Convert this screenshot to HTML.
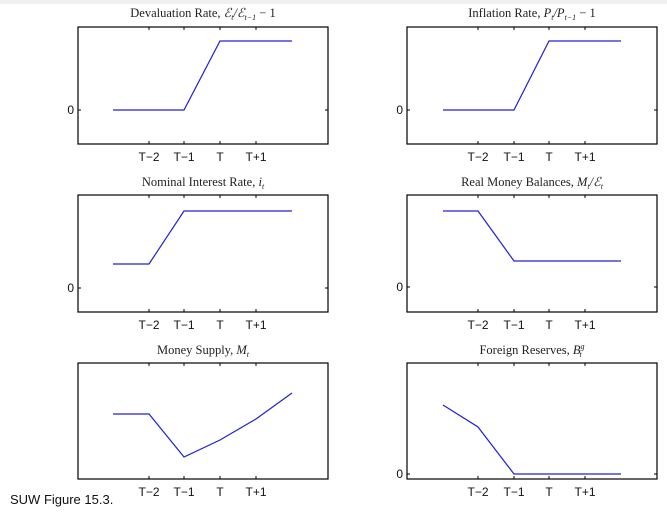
<!DOCTYPE html>
<html><head><meta charset="utf-8"><style>
body{margin:0;background:#fff}
svg{display:block}
.t{font-family:"Liberation Serif",serif;font-size:12.5px;fill:#222}
.l{font-family:"Liberation Sans",sans-serif;font-size:12px;fill:#111}
</style></head><body>
<svg width="667" height="513" viewBox="0 0 667 513">
<rect x="0" y="0" width="667" height="4" fill="#f0f0f0"/>
<g fill="none" stroke="#000" stroke-width="1.2">
<rect x="78" y="27" width="250" height="117"/>
<rect x="407" y="27" width="250" height="117"/>
<rect x="78" y="195" width="250" height="117"/>
<rect x="407" y="195" width="250" height="117"/>
<rect x="78" y="363" width="250" height="116"/>
<rect x="407" y="363" width="250" height="116"/>
</g>
<g stroke="#000" stroke-width="1">
<path d="M149,144v-3M184,144v-3M220,144v-3M256,144v-3M149,27v3M184,27v3M220,27v3M256,27v3M78,110h3M328,110h-3"/>
<path d="M478,144v-3M514,144v-3M549,144v-3M585,144v-3M478,27v3M514,27v3M549,27v3M585,27v3M407,110h3M657,110h-3"/>
<path d="M149,312v-3M184,312v-3M220,312v-3M256,312v-3M149,195v3M184,195v3M220,195v3M256,195v3M78,288h3M328,288h-3"/>
<path d="M478,312v-3M514,312v-3M549,312v-3M585,312v-3M478,195v3M514,195v3M549,195v3M585,195v3M407,287h3M657,287h-3"/>
<path d="M149,479v-3M184,479v-3M220,479v-3M256,479v-3M149,363v3M184,363v3M220,363v3M256,363v3"/>
<path d="M478,479v-3M514,479v-3M549,479v-3M585,479v-3M478,363v3M514,363v3M549,363v3M585,363v3M407,474h3M657,474h-3"/>
</g>
<g fill="none" stroke="#2020d0" stroke-width="1.2">
<polyline points="113,110 184,110 220,41 292,41"/>
<polyline points="443,110 514,110 549,41 621,41"/>
<polyline points="113,264 149,264 184,211 292,211"/>
<polyline points="443,211 478,211 514,261 621,261"/>
<polyline points="113,414 149,414 184,457 220,440 256,419 292,393"/>
<polyline points="443,405 478,427 514,474 621,474"/>
</g>
<g class="t" text-anchor="middle">
<text x="203" y="17">Devaluation Rate, <tspan font-style="italic">ℰ<tspan font-size="8" dy="3">t</tspan><tspan dy="-3">/ℰ</tspan><tspan font-size="8" dy="3">t−1</tspan></tspan><tspan dy="-3"> − 1</tspan></text>
<text x="532" y="17">Inflation Rate, <tspan font-style="italic">P<tspan font-size="8" dy="3">t</tspan><tspan dy="-3">/P</tspan><tspan font-size="8" dy="3">t−1</tspan></tspan><tspan dy="-3"> − 1</tspan></text>
<text x="203" y="186">Nominal Interest Rate, <tspan font-style="italic">i<tspan font-size="8" dy="3">t</tspan></tspan></text>
<text x="532" y="186">Real Money Balances, <tspan font-style="italic">M<tspan font-size="8" dy="3">t</tspan><tspan dy="-3">/ℰ</tspan><tspan font-size="8" dy="3">t</tspan></tspan></text>
<text x="203" y="354">Money Supply, <tspan font-style="italic">M<tspan font-size="8" dy="3">t</tspan></tspan></text>
<text x="532" y="354">Foreign Reserves, <tspan font-style="italic">B<tspan font-size="8" dy="-5">g</tspan><tspan font-size="8" dx="-5" dy="8">t</tspan></tspan></text>
</g>
<g class="l" text-anchor="middle">
<text x="149" y="161">T−2</text><text x="184" y="161">T−1</text><text x="220" y="161">T</text><text x="256" y="161">T+1</text>
<text x="478" y="161">T−2</text><text x="514" y="161">T−1</text><text x="549" y="161">T</text><text x="585" y="161">T+1</text>
<text x="149" y="329">T−2</text><text x="184" y="329">T−1</text><text x="220" y="329">T</text><text x="256" y="329">T+1</text>
<text x="478" y="329">T−2</text><text x="514" y="329">T−1</text><text x="549" y="329">T</text><text x="585" y="329">T+1</text>
<text x="149" y="496">T−2</text><text x="184" y="496">T−1</text><text x="220" y="496">T</text><text x="256" y="496">T+1</text>
<text x="478" y="496">T−2</text><text x="514" y="496">T−1</text><text x="549" y="496">T</text><text x="585" y="496">T+1</text>
</g>
<g class="l" text-anchor="end">
<text x="74" y="114">0</text><text x="403" y="114">0</text>
<text x="74" y="292">0</text><text x="403" y="291">0</text>
<text x="403" y="478">0</text>
</g>
<text x="10" y="504" style="font-family:'Liberation Sans',sans-serif;font-size:13px;fill:#111">SUW Figure 15.3.</text>
</svg>
</body></html>
